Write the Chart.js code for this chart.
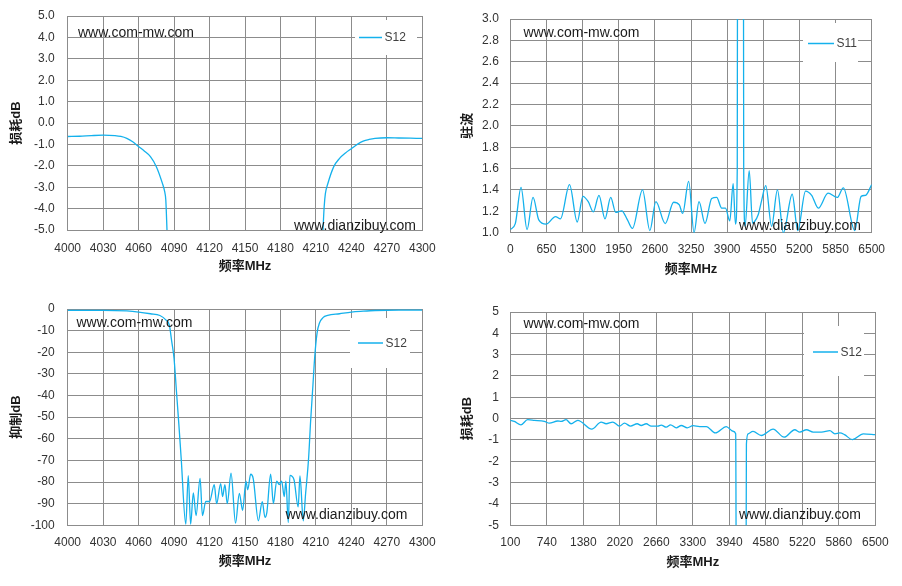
<!DOCTYPE html>
<html>
<head>
<meta charset="utf-8">
<script src="https://cdn.jsdelivr.net/npm/chart.js@4.4.1/dist/chart.umd.min.js"></script>
<style>
  body { margin: 0; background: #fff; }
  .wrap { position: relative; width: 902px; height: 586px; }
  canvas { position: absolute; }
</style>
</head>
<body>
<div class="wrap">
  <canvas id="c1" width="451" height="293" style="left:0;top:0"></canvas>
  <canvas id="c2" width="451" height="293" style="left:451px;top:0"></canvas>
  <canvas id="c3" width="451" height="293" style="left:0;top:293px"></canvas>
  <canvas id="c4" width="451" height="293" style="left:451px;top:293px"></canvas>
</div>
<script>
// top left: passband loss, zoomed
const freqLossA = [4000, 4010, 4020, 4030, 4040, 4045, 4050, 4055, 4060, 4065,
  4070, 4075, 4080, 4082, 4083, 4084, 4086, 4090, 4210, 4214,
  4216, 4217, 4218, 4220, 4225, 4230, 4235, 4240, 4245, 4250,
  4255, 4260, 4270, 4280, 4290, 4300];
const lossA = [-0.63, -0.62, -0.59, -0.57, -0.59, -0.63, -0.72, -0.88, -1.10, -1.32,
  -1.57, -2.04, -2.80, -3.20, -3.60, -5.00, -8.0, -23.0, -20.0, -8.0,
  -5.0, -3.9, -3.3, -2.85, -2.05, -1.65, -1.40, -1.20, -1.00, -0.85,
  -0.77, -0.72, -0.69, -0.70, -0.71, -0.72];

// top right: VSWR wide band
const freqVswr = [0, 90, 193, 301, 409, 512, 644, 813, 903, 1065,
  1204, 1306, 1402, 1493, 1595, 1703, 1806, 1896, 2004, 2107,
  2197, 2378, 2510, 2618, 2787, 2937, 3040, 3100, 3208, 3305,
  3394, 3502, 3622, 3712, 3802, 3870, 3948, 4008, 4050, 4082,
  4090, 4100, 4180, 4190, 4198, 4222, 4297, 4357, 4388, 4460,
  4520, 4595, 4700, 4804, 4912, 5070, 5170, 5310, 5420, 5540,
  5715, 5880, 5990, 6195, 6310, 6390, 6500];
const vswr = [1.03, 1.085, 1.425, 1.03, 1.33, 1.12, 1.08, 1.15, 1.13, 1.45,
  1.10, 1.34, 1.29, 1.195, 1.35, 1.13, 1.33, 1.19, 1.205, 1.12,
  1.04, 1.40, 1.02, 1.29, 1.085, 1.285, 1.26, 1.18, 1.48, 1.00,
  1.29, 1.086, 1.32, 1.33, 1.23, 1.23, 1.11, 1.46, 1.08, 1.6,
  5, 20, 20, 5, 1.6, 1.06, 1.58, 1.09, 1.10, 1.17,
  1.30, 1.44, 1.06, 1.40, 1.00, 1.36, 1.02, 1.39, 1.35, 1.23,
  1.37, 1.33, 1.42, 1.02, 1.34, 1.35, 1.45];

// bottom left: rejection
const freqRej = [4000, 4030, 4050, 4060, 4070, 4078, 4083, 4086, 4088, 4090,
  4092, 4094, 4096, 4099.9, 4102, 4104, 4106.3, 4108.6, 4112, 4114,
  4116.8, 4120, 4124, 4126, 4129.4, 4131, 4133, 4135, 4138.2, 4142,
  4145.2, 4148, 4150.8, 4152.3, 4154.8, 4157, 4161.3, 4164.6, 4166.9, 4168.5,
  4171.7, 4174, 4176.8, 4179, 4181, 4183.2, 4184.6, 4186.6, 4188, 4191.4,
  4195, 4196.5, 4199.3, 4201.3, 4203.8, 4205.5, 4207.5, 4209, 4211, 4213,
  4216, 4220, 4230, 4240, 4250, 4260, 4280, 4300];
const rej = [-0.6, -0.6, -0.9, -1.4, -2.2, -3.0, -5, -7.5, -15, -23,
  -38, -53, -69, -99.5, -77, -99.5, -85, -95.5, -78.3, -95.5,
  -89, -89, -81.2, -90, -80.7, -86.7, -81.2, -90, -75.9, -99,
  -85.2, -93.1, -79.6, -83.6, -76.4, -78.5, -97.9, -89.1, -96.3, -94,
  -76.4, -90, -79.6, -81.2, -79.6, -86.7, -79.6, -98.7, -76.9, -78.8,
  -91.5, -77.2, -97.9, -85.2, -69, -52, -35, -22, -11, -6.5,
  -4, -3, -2.2, -1.4, -1.0, -0.7, -0.5, -0.5];

// bottom right: loss wide band
const freqLossB = [100, 170, 287, 404, 522, 697, 785, 931, 990, 1078,
  1166, 1283, 1529, 1693, 1780, 1897, 2015, 2102, 2208, 2325,
  2395, 2483, 2571, 2688, 2746, 2834, 2910, 3010, 3098, 3203,
  3303, 3420, 3537, 3695, 3888, 4005, 4052, 4070, 4225, 4240,
  4270, 4356, 4503, 4708, 4901, 5088, 5176, 5293, 5410, 5557,
  5703, 5791, 5879, 5960, 6096, 6289, 6500];
const lossB = [-0.08, -0.13, -0.29, -0.05, -0.08, -0.13, -0.21, -0.11, -0.13, -0.05,
  -0.24, -0.08, -0.49, -0.16, -0.24, -0.16, -0.35, -0.21, -0.35, -0.24,
  -0.32, -0.24, -0.35, -0.35, -0.30, -0.40, -0.29, -0.43, -0.32, -0.43,
  -0.33, -0.37, -0.37, -0.67, -0.37, -0.59, -0.71, -15, -15, -1.2,
  -0.71, -0.60, -0.79, -0.49, -0.87, -0.52, -0.63, -0.52, -0.63, -0.63,
  -0.56, -0.71, -0.67, -0.75, -0.98, -0.71, -0.75];

const FONT = "'Liberation Sans', Arial, 'Noto Sans CJK SC', sans-serif";
const LINE = "#14b1ec";
const GRID = "#8c8c8c";
const TICK = "#333333";

// legend box + watermarks, drawn over the plot like the excel chart
const overlay = (pos) => ({
  id: "overlay",
  afterDatasetsDraw(chart) {
    const ctx = chart.ctx;
    const b = pos.box, l = pos.line;
    ctx.save();
    ctx.fillStyle = "#fff";
    ctx.fillRect(b[0], b[1], b[2] - b[0], b[3] - b[1]);
    ctx.strokeStyle = LINE;
    ctx.lineWidth = 1.5;
    ctx.beginPath();
    ctx.moveTo(l[0], l[2]);
    ctx.lineTo(l[1], l[2]);
    ctx.stroke();
    ctx.textBaseline = "middle";
    ctx.font = "12px " + FONT;
    ctx.fillStyle = "#404040";
    ctx.fillText(chart.data.datasets[0].label, l[1] + 2.5, l[2] + 0.5);
    ctx.font = "14px " + FONT;
    ctx.fillStyle = "#1a1a1a";
    ctx.fillText("www.com-mw.com", pos.mark1[0], pos.mark1[1]);
    ctx.fillText("www.dianzibuy.com", pos.mark2[0], pos.mark2[1]);
    ctx.restore();
  }
});

const makeChart = (id, freqs, vals, label, o) => {
  return new Chart(document.getElementById(id), {
    type: "line",
    data: {
      datasets: [{
        label: label,
        data: freqs.map((f, i) => ({ x: f, y: vals[i] })),
        borderColor: LINE,
        borderWidth: 1.3,
        pointRadius: 0,
        cubicInterpolationMode: "monotone",
        fill: false,
      }],
    },
    options: {
      responsive: false,
      animation: false,
      events: [],
      layout: { padding: { top: o.top, right: o.right, left: 0, bottom: 0 } },
      plugins: { legend: { display: false }, tooltip: { enabled: false } },
      scales: {
        x: {
          type: "linear",
          min: o.x[0], max: o.x[1],
          grid: { color: GRID, drawTicks: false },
          border: { color: GRID },
          ticks: {
            stepSize: o.x[2], autoSkip: false, maxRotation: 0, padding: o.xPad,
            color: TICK, font: { family: FONT, size: 12 },
            callback: (v) => String(Math.round(v)),
          },
          title: {
            display: true, text: "频率MHz", color: "#1a1a1a",
            font: { family: FONT, size: 13, weight: "bold" },
            padding: { top: 2, bottom: o.xTitlePad },
          },
          afterFit: (s) => { s.height = o.xh; },
        },
        y: {
          min: o.y[0], max: o.y[1],
          grid: { color: GRID, drawTicks: false },
          border: { color: GRID },
          ticks: {
            stepSize: o.y[2], padding: o.yPad, color: TICK,
            font: { family: FONT, size: 12 },
            callback: (v) => (Math.abs(v) < 1e-9 ? 0 : v).toFixed(o.y[3]),
          },
          title: {
            display: true, text: o.yTitle, color: "#1a1a1a",
            font: { family: FONT, size: 13, weight: "bold" },
            padding: { top: o.yTitlePad, bottom: 2 },
          },
          afterFit: (s) => {
            s.width = o.yw;
            // keep tick padding from pushing the plot top down
            s.paddingTop = 0;
            s.paddingBottom = 0;
          },
        },
      },
    },
    plugins: [overlay(o.pos)],
  });
};

makeChart("c1", freqLossA, lossA, "S12", {
  top: 16, right: 28.7, yw: 67.7, xh: 63, xPad: 11, yPad: 13, xTitlePad: 18.5, yTitlePad: 9,
  x: [4000, 4300, 30], y: [-5, 5, 1, 1], yTitle: "损耗dB",
  pos: { box: [355, 20, 417, 55], line: [359, 382, 37.5], mark1: [78, 33.5], mark2: [294, 226] },
});

makeChart("c2", freqVswr, vswr, "S11", {
  top: 19, right: 30.3, yw: 59.3, xh: 60.3, xPad: 10, yPad: 11.5, xTitlePad: 16, yTitlePad: 9,
  x: [0, 6500, 650], y: [1, 3, 0.2, 1], yTitle: "驻波",
  pos: { box: [352, 23, 407, 62], line: [357, 383, 43.5], mark1: [72.5, 33.5], mark2: [288, 226] },
});

makeChart("c3", freqRej, rej, "S12", {
  top: 16, right: 28.7, yw: 67.7, xh: 60.7, xPad: 10, yPad: 13, xTitlePad: 16.5, yTitlePad: 9,
  x: [4000, 4300, 30], y: [-100, 0, 10, 0], yTitle: "抑制dB",
  pos: { box: [350, 25, 410, 75], line: [358, 383, 50], mark1: [76.5, 30], mark2: [285.5, 222.5] },
});

makeChart("c4", freqLossB, lossB, "S12", {
  top: 19, right: 26.7, yw: 59.3, xh: 60.7, xPad: 10.5, yPad: 11.5, xTitlePad: 16, yTitlePad: 9,
  x: [100, 6500, 640], y: [-5, 5, 1, 0], yTitle: "损耗dB",
  pos: { box: [353, 33, 413, 83], line: [362, 387, 59], mark1: [72.5, 31], mark2: [288, 222.5] },
});
</script>
</body>
</html>
